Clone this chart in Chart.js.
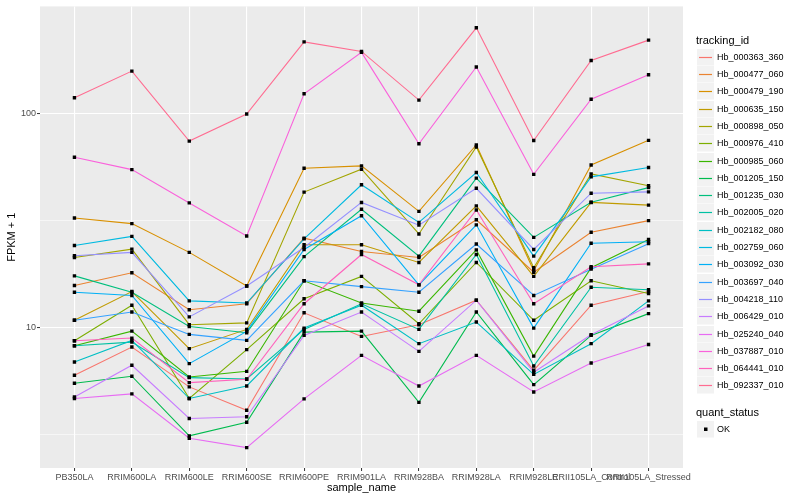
<!DOCTYPE html>
<html>
<head>
<meta charset="utf-8">
<script src="https://cdn.jsdelivr.net/npm/chart.js@4.4.0/dist/chart.umd.min.js"></script>
<style>
  html, body { margin: 0; padding: 0; background: #ffffff; }
  #chart { display: block; }
</style>
</head>
<body>
<canvas id="chart" width="800" height="500"></canvas>
<script>
// --- Data (FPKM + 1) ---
const sampleNames = ['PB350LA', 'RRIM600LA', 'RRIM600LE', 'RRIM600SE', 'RRIM600PE', 'RRIM901LA',
  'RRIM928BA', 'RRIM928LA', 'RRIM928LE', 'RRII105LA_Control', 'RRII105LA_Stressed'];

const trackingIds = ['Hb_000363_360', 'Hb_000477_060', 'Hb_000479_190', 'Hb_000635_150', 'Hb_000898_050',
  'Hb_000976_410', 'Hb_000985_060', 'Hb_001205_150', 'Hb_001235_030', 'Hb_002005_020',
  'Hb_002182_080', 'Hb_002759_060', 'Hb_003092_030', 'Hb_003697_040', 'Hb_004218_110',
  'Hb_006429_010', 'Hb_025240_040', 'Hb_037887_010', 'Hb_064441_010', 'Hb_092337_010'];

const hb000363_360 = [5.98, 8.10, 5.28, 4.11, 11.7, 9.08, 10.3, 13.4, 6.31, 12.7, 14.7];
const hb000477_060 = [15.7, 18.0, 12.1, 12.9, 26.1, 22.6, 21.2, 31.8, 18.1, 27.8, 31.5];
const hb000479_190 = [32.4, 30.5, 22.4, 15.6, 55.3, 56.7, 34.8, 71.0, 18.4, 57.3, 74.6];
const hb000635_150 = [10.8, 14.7, 7.96, 9.79, 24.3, 24.3, 20.1, 36.9, 17.3, 38.3, 37.2];
const hb000898_050 = [21.2, 23.2, 10.3, 10.5, 42.8, 54.7, 27.3, 69.5, 19.0, 52.0, 45.8];
const hb000976_410 = [8.67, 12.7, 4.66, 7.88, 13.6, 17.3, 10.4, 20.1, 10.8, 16.5, 14.4];
const hb000985_060 = [8.22, 9.61, 5.87, 6.24, 16.5, 13.0, 11.9, 23.0, 7.35, 19.0, 25.7];
const hb001205_150 = [5.49, 5.92, 3.12, 3.61, 9.51, 9.61, 4.47, 11.8, 5.41, 9.18, 11.6];
const hb001235_030 = [17.4, 14.6, 10.1, 9.45, 21.4, 35.6, 21.5, 49.7, 26.3, 38.4, 44.9];
const hb002005_020 = [8.22, 8.54, 5.83, 5.75, 9.79, 12.9, 9.79, 21.9, 6.61, 15.4, 15.0];
const hb002182_080 = [6.90, 8.70, 4.66, 5.33, 9.93, 12.7, 8.40, 10.6, 6.04, 8.40, 13.3];
const hb002759_060 = [24.1, 26.6, 13.3, 13.0, 25.9, 46.3, 30.9, 52.8, 21.5, 50.4, 55.7];
const hb003092_030 = [14.6, 14.1, 6.78, 9.58, 23.1, 33.2, 15.8, 30.1, 9.93, 24.7, 25.1];
const hb003697_040 = [10.8, 11.8, 9.28, 8.70, 16.5, 15.5, 14.6, 24.5, 14.1, 18.7, 24.6];
const hb004218_110 = [21.6, 22.4, 11.2, 15.6, 23.6, 38.3, 30.0, 44.6, 23.1, 42.3, 42.9];
const hb006429_010 = [4.74, 6.66, 3.76, 3.83, 9.18, 11.8, 7.73, 13.4, 6.18, 9.25, 12.6];
const hb025240_040 = [4.66, 4.90, 3.04, 2.75, 4.64, 7.41, 5.33, 7.41, 5.00, 6.82, 8.33];
const hb037887_010 = [62.2, 54.5, 38.1, 26.7, 123, 192, 71.9, 164, 51.8, 116, 151];
const hb064441_010 = [8.67, 8.92, 5.53, 5.73, 12.9, 21.9, 15.8, 35.3, 12.9, 19.2, 19.8];
const hb092337_010 = [118, 157, 74.0, 99.0, 215, 194, 115, 250, 74.5, 176, 219];

const seriesValues = [hb000363_360, hb000477_060, hb000479_190, hb000635_150, hb000898_050,
  hb000976_410, hb000985_060, hb001205_150, hb001235_030, hb002005_020,
  hb002182_080, hb002759_060, hb003092_030, hb003697_040, hb004218_110,
  hb006429_010, hb025240_040, hb037887_010, hb064441_010, hb092337_010];

const yMajorTicks = [10, 100];
const yMinorTicks = [3.1623, 31.623];
const yTickLabels = ['10', '100'];
const quantStatus = ['OK'];

// --- Style ---
const hueColors = ['#F8766D', '#EA8331', '#D89000', '#C09B00', '#A3A500', '#7CAE00', '#39B600',
  '#00BB4E', '#00BF7D', '#00C1A3', '#00BFC4', '#00BAE0', '#00B0F6', '#35A2FF', '#9590FF',
  '#C77CFF', '#E76BF3', '#FA62DB', '#FF62BC', '#FF6C91'];
const FONT = "'Liberation Sans', Arial, sans-serif";

// --- Plugins ---
const panelBackground = {
  id: 'panelBackground',
  beforeDraw(chart) {
    const { ctx, chartArea: a } = chart;
    ctx.save();
    ctx.fillStyle = '#EBEBEB';
    ctx.fillRect(a.left, a.top, a.right - a.left, a.bottom - a.top);
    ctx.restore();
  },
};

// legend in ggplot style, drawn in the right margin
const ggLegend = {
  id: 'ggLegend',
  afterDraw(chart) {
    const ctx = chart.ctx;
    const x0 = 697, size = 17, step = 17.3, firstY = 56.7;
    ctx.save();
    ctx.textBaseline = 'middle';
    ctx.textAlign = 'left';
    ctx.fillStyle = '#000000';
    ctx.font = `11px ${FONT}`;
    ctx.fillText('tracking_id', 696, 41);

    trackingIds.forEach((id, i) => {
      const cy = Math.round(firstY + i * step);
      ctx.fillStyle = '#F2F2F2';
      ctx.fillRect(x0, cy - 8, size, size - 0.5);
      ctx.strokeStyle = hueColors[i];
      ctx.lineWidth = 1.2;
      ctx.beginPath();
      ctx.moveTo(x0 + 2, cy + 0.5);
      ctx.lineTo(x0 + size - 2, cy + 0.5);
      ctx.stroke();
      ctx.fillStyle = '#000000';
      ctx.font = `9px ${FONT}`;
      ctx.fillText(id, 717, cy + 0.5);
    });

    ctx.font = `11px ${FONT}`;
    ctx.fillText('quant_status', 696, 412.5);
    const oy = 429;
    ctx.fillStyle = '#F2F2F2';
    ctx.fillRect(x0, oy - 8, size, size - 0.5);
    ctx.fillStyle = '#000000';
    ctx.fillRect(x0 + 7, oy - 1.5, 3.5, 3.5);
    ctx.font = `9px ${FONT}`;
    ctx.fillText(quantStatus[0], 717, oy + 0.5);
    ctx.restore();
  },
};

// --- Datasets ---
const lineSets = seriesValues.map((values, i) => ({
  type: 'line',
  label: trackingIds[i],
  data: values.map((v, j) => ({ x: j, y: v })),
  borderColor: hueColors[i],
  borderWidth: 1.1,
  pointRadius: 0,
  tension: 0,
  fill: false,
  order: 20 - i,
}));

const pointSet = {
  type: 'scatter',
  label: 'OK',
  data: seriesValues.flatMap((values) => values.map((v, j) => ({ x: j, y: v }))),
  pointStyle: 'rect',
  pointRadius: 2.4,
  backgroundColor: '#000000',
  borderWidth: 0,
  order: 0,
};

const isMajor = (v) => yMajorTicks.some((t) => Math.abs(t - v) < 1e-6);

new Chart(document.getElementById('chart'), {
  type: 'line',
  data: { datasets: [...lineSets, pointSet] },
  options: {
    responsive: false,
    animation: false,
    layout: { padding: { left: 0, right: 117, top: 5, bottom: 0 } },
    plugins: { legend: { display: false }, tooltip: { enabled: false } },
    scales: {
      x: {
        type: 'linear',
        min: -0.6,
        max: 10.6,
        afterBuildTicks: (axis) => {
          axis.ticks = sampleNames.map((_, i) => ({ value: i }));
        },
        afterFit: (axis) => { axis.height = 32; },
        border: { display: false },
        grid: { color: '#FFFFFF', lineWidth: 1.1, tickLength: 3, tickColor: '#333333', tickWidth: 1 },
        ticks: {
          autoSkip: false,
          maxRotation: 0,
          minRotation: 0,
          padding: 1,
          color: '#4D4D4D',
          font: { family: FONT, size: 9 },
          callback: (value) => sampleNames[value] ?? '',
        },
        title: {
          display: true,
          text: 'sample_name',
          color: '#000000',
          font: { family: FONT, size: 11 },
          padding: { top: 0, bottom: 5 },
        },
      },
      y: {
        type: 'logarithmic',
        min: 2.209,
        max: 314.6,
        afterBuildTicks: (axis) => {
          axis.ticks = [...yMinorTicks, ...yMajorTicks].sort((a, b) => a - b).map((v) => ({ value: v }));
        },
        afterFit: (axis) => { axis.width = 40; },
        border: { display: false },
        grid: {
          color: '#FFFFFF',
          lineWidth: (c) => (isMajor(c.tick.value) ? 1.1 : 0.55),
          tickLength: 3,
          tickColor: (c) => (isMajor(c.tick.value) ? '#333333' : 'rgba(0,0,0,0)'),
          tickWidth: 1,
        },
        ticks: {
          autoSkip: false,
          padding: 1,
          color: '#4D4D4D',
          font: { family: FONT, size: 9 },
          callback: (value) => {
            const k = yMajorTicks.findIndex((t) => Math.abs(t - value) < 1e-6);
            return k >= 0 ? yTickLabels[k] : '';
          },
        },
        title: {
          display: true,
          text: 'FPKM + 1',
          color: '#000000',
          font: { family: FONT, size: 11 },
          padding: { top: 5, bottom: 0 },
        },
      },
    },
  },
  plugins: [panelBackground, ggLegend],
});
</script>
</body>
</html>
